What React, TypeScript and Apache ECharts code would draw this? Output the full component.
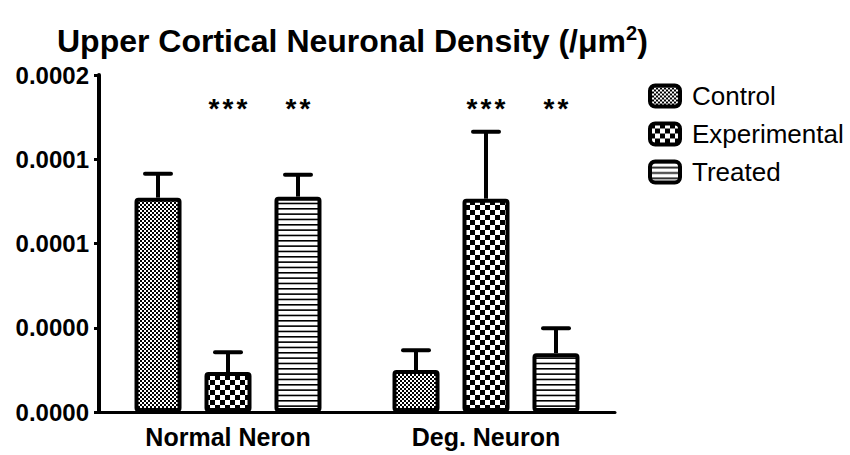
import React, { useEffect, useRef } from "react";
import * as echarts from "echarts";

const categories = ["Normal Neron", "Deg. Neuron"];
const seriesNames = ["Control", "Experimental", "Treated"];
const controlMean = [1.272e-4, 2.49e-5];
const controlUpper = [1.414e-4, 3.67e-5];
const experimentalMean = [2.37e-5, 1.266e-4];
const experimentalUpper = [3.55e-5, 1.663e-4];
const treatedMean = [1.278e-4, 3.49e-5];
const treatedUpper = [1.408e-4, 4.97e-5];
const controlStars = [0, 0];
const experimentalStars = [3, 3];
const treatedStars = [2, 2];
const yTickLabels = ["0.0000", "0.0000", "0.0001", "0.0001", "0.0002"];
const Y_MIN = 0;
const Y_MAX = 2e-4;
const Y_STEP = 5e-5;
const STAR_LEVEL = 1.84e-4;

const BAR_W = 47;
const BAR_SPACING = 70;
const STAR_PITCH = 14;
const STAR_SIZE = 28;
const FONT = "Arial, 'Liberation Sans', Helvetica, sans-serif";

function makePattern(kind: string) {
  const c = document.createElement("canvas");
  const ctx = c.getContext("2d")!;
  if (kind === "fine") {
    c.width = 4; c.height = 4;
    ctx.fillStyle = "#fff"; ctx.fillRect(0, 0, 4, 4);
    ctx.fillStyle = "#000";
    ctx.fillRect(0, 0, 2, 2); ctx.fillRect(2, 2, 2, 2);
  } else if (kind === "coarse") {
    c.width = 10; c.height = 10;
    ctx.fillStyle = "#fff"; ctx.fillRect(0, 0, 10, 10);
    ctx.fillStyle = "#000";
    ctx.fillRect(0, 0, 5, 5); ctx.fillRect(5, 5, 5, 5);
  } else {
    c.width = 8; c.height = 16;
    ctx.fillStyle = "#fff"; ctx.fillRect(0, 0, 8, 16);
    ctx.fillStyle = "#000";
    ctx.fillRect(0, 0, 8, 1.6);
    ctx.fillRect(0, 5.33, 8, 1.6);
    ctx.fillRect(0, 10.67, 8, 1.6);
  }
  return { image: c, repeat: "repeat", imageWidth: c.width, imageHeight: c.height } as any;
}

export default function App() {
  const ref = useRef<HTMLDivElement>(null);
  useEffect(() => {
    if (!ref.current) return;
    const chart = echarts.init(ref.current, null, { renderer: "svg" });
    const patterns = [makePattern("fine"), makePattern("coarse"), makePattern("lines")];
    const means = [controlMean, experimentalMean, treatedMean];
    const uppers = [controlUpper, experimentalUpper, treatedUpper];
    const stars = [controlStars, experimentalStars, treatedStars];

    const barSeries = seriesNames.map((name, k) => ({
      name,
      type: "bar",
      barWidth: BAR_W,
      barGap: ((BAR_SPACING - BAR_W) / BAR_W * 100).toFixed(1) + "%",
      data: means[k],
      itemStyle: {
        color: patterns[k],
        borderColor: "#000",
        borderWidth: 4,
        borderRadius: 2,
      },
      z: 2,
    }));

    const errSeries = seriesNames.map((name, k) => ({
      name: name + " SEM",
      type: "custom",
      z: 3,
      data: categories.map((_, i) => [i, means[k][i], uppers[k][i], stars[k][i]]),
      renderItem: (params: any, api: any) => {
        const cat = api.value(0);
        const mean = api.value(1);
        const up = api.value(2);
        const nStars = api.value(3);
        const base = api.coord([cat, mean]);
        const x = base[0] + (k - 1) * BAR_SPACING;
        const yTop = api.coord([cat, up])[1];
        const starPt = api.coord([cat, STAR_LEVEL]);
        const children: any[] = [
          {
            type: "line",
            shape: { x1: x, y1: base[1], x2: x, y2: yTop },
            style: { stroke: "#000", lineWidth: 4 },
          },
          {
            type: "line",
            shape: { x1: x - 13, y1: yTop, x2: x + 13, y2: yTop },
            style: { stroke: "#000", lineWidth: 4, lineCap: "round" },
          },
        ];
        for (let j = 0; j < nStars; j++) {
          children.push({
            type: "text",
            style: {
              text: "*",
              x: x + (j - (nStars - 1) / 2) * STAR_PITCH,
              y: starPt[1] + 0.24 * STAR_SIZE,
              align: "center",
              verticalAlign: "middle",
              fontSize: STAR_SIZE,
              fontWeight: "bold",
              fontFamily: FONT,
              fill: "#000",
            },
          });
        }
        return { type: "group", children };
      },
    }));

    chart.setOption({
      animation: false,
      title: {
        text: "Upper Cortical Neuronal Density (/μm{sup|2})",
        left: 52,
        top: 18,
        textStyle: {
          fontSize: 32,
          fontWeight: "bold",
          fontFamily: FONT,
          color: "#000",
          rich: {
            sup: {
              fontSize: 20,
              fontWeight: "bold",
              fontFamily: FONT,
              color: "#000",
              padding: [0, 0, 15, 0],
            },
          },
        },
      },
      legend: {
        data: seriesNames,
        orient: "vertical",
        left: 643,
        top: 78,
        itemWidth: 30,
        itemHeight: 21,
        itemGap: 12,
        icon: "roundRect",
        itemStyle: { borderColor: "#000", borderWidth: 4 },
        textStyle: { fontSize: 26, fontFamily: FONT, color: "#000", padding: [0, 0, 0, 7] },
      },
      grid: { left: 99, right: 235, top: 75, bottom: 43 },
      xAxis: {
        type: "category",
        data: categories,
        axisLine: { lineStyle: { color: "#000", width: 3 } },
        axisTick: { alignWithLabel: true, length: 5, lineStyle: { color: "#000", width: 3 } },
        axisLabel: {
          fontSize: 25,
          fontWeight: "bold",
          fontFamily: FONT,
          color: "#000",
          margin: 12,
        },
      },
      yAxis: {
        type: "value",
        min: Y_MIN,
        max: Y_MAX,
        interval: Y_STEP,
        splitLine: { show: false },
        axisLine: { show: true, lineStyle: { color: "#000", width: 4 } },
        axisTick: { show: true, length: 5, lineStyle: { color: "#000", width: 3 } },
        axisLabel: {
          fontSize: 24,
          fontWeight: "bold",
          fontFamily: FONT,
          color: "#000",
          margin: 10,
          formatter: (v: number) => yTickLabels[Math.round((v - Y_MIN) / Y_STEP)],
        },
      },
      series: [...barSeries, ...errSeries],
    });
    return () => chart.dispose();
  }, []);
  return <div ref={ref} style={{ position: "absolute", left: 0, top: 0, width: 850, height: 455 }} />;
}
